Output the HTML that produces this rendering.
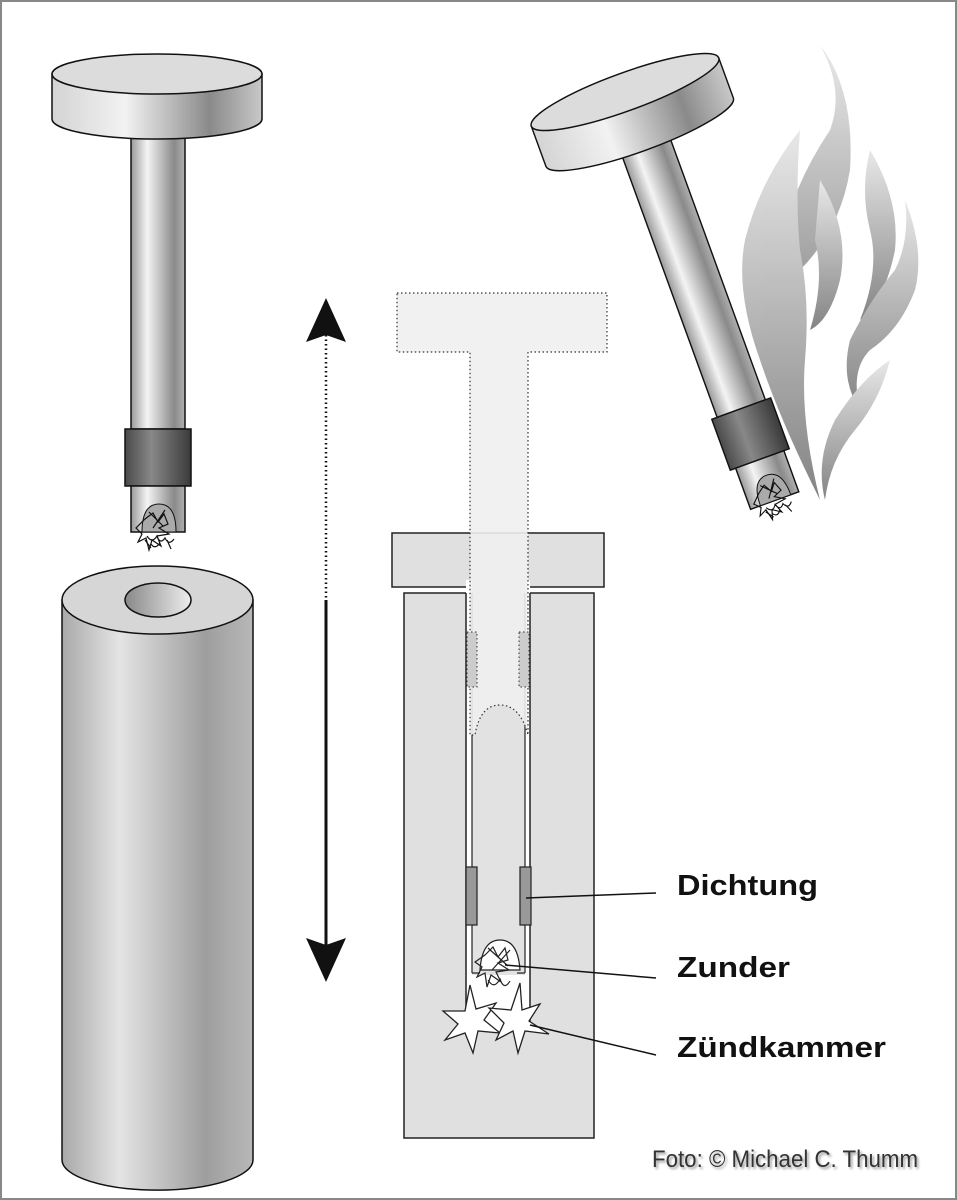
<!DOCTYPE html>
<html><head><meta charset="utf-8"><style>
html,body{margin:0;padding:0;background:#fff}
svg{display:block}
.lbl{font-family:"Liberation Sans",sans-serif;font-weight:bold;font-size:29px;fill:#111}
</style></head><body>
<svg width="957" height="1200" viewBox="0 0 957 1200" xmlns="http://www.w3.org/2000/svg">
<defs>
<linearGradient id="cyl" x1="0" x2="1" y1="0" y2="0">
<stop offset="0" stop-color="#d4d4d4"/><stop offset="0.35" stop-color="#f2f2f2"/><stop offset="0.75" stop-color="#8a8a8a"/><stop offset="1" stop-color="#c8c8c8"/></linearGradient>
<linearGradient id="rod" x1="0" x2="1"><stop offset="0" stop-color="#9a9a9a"/><stop offset="0.3" stop-color="#f4f4f4"/><stop offset="0.8" stop-color="#8a8a8a"/><stop offset="1" stop-color="#b0b0b0"/></linearGradient>
<linearGradient id="band" x1="0" x2="1"><stop offset="0" stop-color="#4a4a4a"/><stop offset="0.4" stop-color="#888"/><stop offset="1" stop-color="#3a3a3a"/></linearGradient>
<linearGradient id="big" x1="0" x2="1"><stop offset="0" stop-color="#a9a9a9"/><stop offset="0.3" stop-color="#e4e4e4"/><stop offset="0.75" stop-color="#9e9e9e"/><stop offset="1" stop-color="#b8b8b8"/></linearGradient>
<linearGradient id="hole" x1="0" x2="1"><stop offset="0" stop-color="#888"/><stop offset="1" stop-color="#eee"/></linearGradient>
<linearGradient id="flame" x1="0" y1="0" x2="0" y2="1"><stop offset="0" stop-color="#e6e6e6"/><stop offset="1" stop-color="#777"/></linearGradient>
<g id="piston">
 <rect x="-26" y="50" width="54" height="305" fill="url(#rod)" stroke="#111" stroke-width="1.5"/>
 <rect x="-32" y="355" width="66" height="57" fill="url(#band)" stroke="#111" stroke-width="1.5"/>
 <rect x="-26" y="412" width="54" height="46" fill="url(#rod)" stroke="#111" stroke-width="1.5"/>
 <path d="M-15 458 Q-15 430 2 430 Q19 430 19 458 Z" fill="#aaa" stroke="#111"/>
 <path d="M-12 445 l8 -6 l5 9 l6 -8 l4 10 l-9 4 l10 6 l-12 2 l4 10 l-9 -6 l-3 10 l-3 -12 l-8 4 l4 -8 l-6 -6 z M-8 438 l14 14 M8 436 l-12 18" fill="none" stroke="#111" stroke-width="1.2"/>
 <path d="M-10 462 q5 8 10 0 q3 9 8 2 q4 8 9 1 M-6 470 q4 6 9 -1 M-12 466 l6 8 M10 466 l4 9" fill="none" stroke="#111" stroke-width="1.2"/>
 <path d="M-105 0 V45 A105 20 0 0 0 105 45 V0 Z" fill="url(#cyl)" stroke="#111" stroke-width="1.5"/>
 <ellipse cx="0" cy="0" rx="105" ry="20" fill="#dcdcdc" stroke="#111" stroke-width="1.5"/>
</g>
</defs>
<rect x="1" y="1" width="955" height="1198" fill="#fff" stroke="#888" stroke-width="2"/>

<use href="#piston" transform="translate(157,74)"/>

<path d="M62 600 V1160 A95 30 0 0 0 253 1160 V600 Z" fill="url(#big)" stroke="#111" stroke-width="1.5"/>
<ellipse cx="157.5" cy="600" rx="95.5" ry="34" fill="#d6d6d6" stroke="#111" stroke-width="1.5"/>
<ellipse cx="158" cy="600" rx="33" ry="17" fill="url(#hole)" stroke="#111" stroke-width="1.5"/>

<line x1="326" y1="335" x2="326" y2="600" stroke="#111" stroke-width="2.5" stroke-dasharray="1.5 3"/>
<line x1="326" y1="600" x2="326" y2="945" stroke="#111" stroke-width="3"/>
<path d="M326 298 L346 342 L326 335 L306 342 Z" fill="#111"/>
<path d="M326 982 L346 938 L326 945 L306 938 Z" fill="#111"/>

<rect x="392" y="533" width="212" height="54" fill="#e0e0e0" stroke="#222" stroke-width="1.5"/>
<rect x="404" y="593" width="190" height="545" fill="#e0e0e0" stroke="#222" stroke-width="1.5"/>
<rect x="466" y="580" width="64" height="450" fill="#fff" stroke="none"/>
<rect x="472" y="580" width="53" height="395" fill="#e2e2e2"/>
<line x1="466" y1="593" x2="466" y2="1030" stroke="#222" stroke-width="1.5"/>
<line x1="530" y1="593" x2="530" y2="1030" stroke="#222" stroke-width="1.5"/>
<line x1="472" y1="593" x2="472" y2="973" stroke="#222" stroke-width="1.2"/>
<line x1="525" y1="593" x2="525" y2="973" stroke="#222" stroke-width="1.2"/>
<path d="M472 973 H480 M525 973 H517" stroke="#222" stroke-width="1.2"/>
<rect x="466" y="867" width="11" height="58" fill="#999" stroke="#222" stroke-width="1.2"/>
<rect x="520" y="867" width="11" height="58" fill="#999" stroke="#222" stroke-width="1.2"/>
<rect x="466" y="1025" width="64" height="6" fill="#fff"/>
<path d="M397 293 H607 V352 H528 V735 Q520 705 500 705 Q480 705 475 735 L470 735 V352 H397 Z" fill="#f0f0f0" fill-opacity="0.9" stroke="#333" stroke-width="1.2" stroke-dasharray="1.5 2.5"/>
<rect x="467" y="632" width="10" height="55" fill="#ccc" stroke="#333" stroke-dasharray="1.5 2.5"/>
<rect x="519" y="632" width="10" height="55" fill="#ccc" stroke="#333" stroke-dasharray="1.5 2.5"/>
<path d="M480 970 Q482 940 500 940 Q518 940 520 970 Z" fill="#fff" stroke="#222" stroke-width="1.2"/>
<path d="M485 955 l8 -8 l5 10 l7 -9 l3 12 l-10 3 l11 7 l-13 2 l5 10 l-10 -7 l-4 12 l-2 -14 l-8 4 l5 -10 l-7 -5 z M488 948 l20 18 M510 950 l-18 20" fill="none" stroke="#222" stroke-width="1.2"/>
<path d="M488 980 q6 10 12 -1 q4 12 10 2" fill="none" stroke="#222" stroke-width="1.2"/>
<path d="M470 985 l6 24 l20 -6 l-12 17 l16 13 l-22 -2 l-5 22 l-8 -20 l-20 7 l13 -16 l-15 -13 l22 0 z" fill="#fff" stroke="#222" stroke-width="1.3"/>
<path d="M520 983 l2 27 l18 -6 l-11 17 l20 13 l-24 -3 l-7 22 l-5 -22 l-17 9 l8 -17 l-15 -15 l22 2 z" fill="#fff" stroke="#222" stroke-width="1.3"/>

<line x1="526" y1="898" x2="656" y2="893" stroke="#111" stroke-width="1.5"/>
<line x1="505" y1="965" x2="656" y2="978" stroke="#111" stroke-width="1.5"/>
<line x1="530" y1="1025" x2="656" y2="1055" stroke="#111" stroke-width="1.5"/>
<text class="lbl" x="677" y="895" textLength="141" lengthAdjust="spacingAndGlyphs">Dichtung</text>
<text class="lbl" x="677" y="977" textLength="113" lengthAdjust="spacingAndGlyphs">Zunder</text>
<text class="lbl" x="677" y="1057" textLength="209" lengthAdjust="spacingAndGlyphs">Zündkammer</text>

<g fill="url(#flame)" opacity="0.9">
<path d="M820 45 Q855 90 850 170 Q840 230 800 270 Q780 300 790 360 Q770 300 780 250 Q790 190 830 130 Q845 90 820 45 Z"/>
<path d="M800 130 Q760 180 745 240 Q735 290 760 360 Q780 420 820 500 Q800 420 805 360 Q810 300 800 250 Q795 200 800 130 Z"/>
<path d="M870 150 Q900 200 895 250 Q885 300 860 320 Q880 270 870 230 Q860 190 870 150 Z"/>
<path d="M905 200 Q925 250 915 290 Q900 330 870 350 Q850 370 860 410 Q840 380 850 340 Q870 300 895 270 Q910 240 905 200 Z"/>
<path d="M890 360 Q880 400 855 430 Q830 460 825 500 Q815 460 835 420 Q860 380 890 360 Z"/>
<path d="M820 180 Q850 230 840 280 Q830 320 810 330 Q825 280 815 240 Z"/>
</g>

<use href="#piston" transform="translate(625,92) rotate(-20) scale(0.95)"/>

<text x="652" y="1167" font-family="'Liberation Sans Narrow','Liberation Sans',sans-serif" font-size="24" fill="#333" textLength="266" lengthAdjust="spacingAndGlyphs" style="text-shadow:2px 2px 3px #999">Foto: © Michael C. Thumm</text>
</svg>
</body></html>
